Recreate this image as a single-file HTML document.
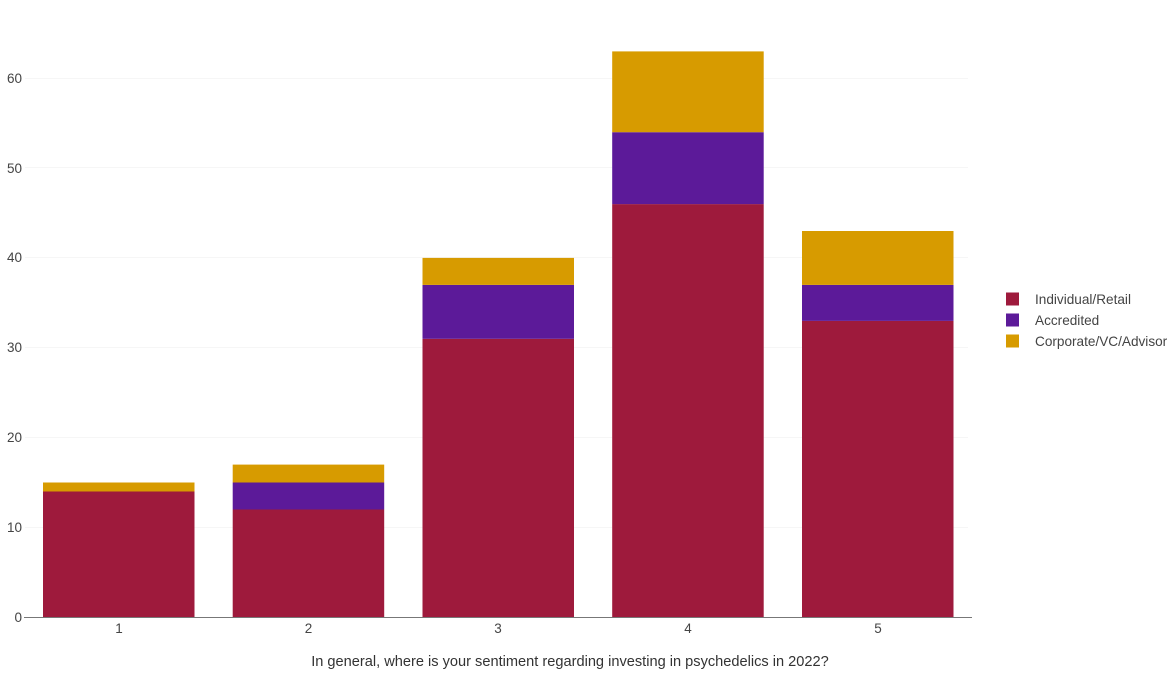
<!DOCTYPE html>
<html><head><meta charset="utf-8"><style>
html,body{margin:0;padding:0;background:#fff;}
svg{display:block;font-family:"Liberation Sans",Helvetica,Arial,sans-serif;}
</style></head><body>
<svg width="1172" height="683" viewBox="0 0 1172 683" xmlns="http://www.w3.org/2000/svg">
<g stroke="#f6f6f6" stroke-width="1">
<line x1="25" y1="527.5" x2="968" y2="527.5"/>
<line x1="25" y1="437.5" x2="968" y2="437.5"/>
<line x1="25" y1="347.5" x2="968" y2="347.5"/>
<line x1="25" y1="257.5" x2="968" y2="257.5"/>
<line x1="25" y1="167.5" x2="968" y2="167.5"/>
<line x1="25" y1="78.5" x2="968" y2="78.5"/>
</g>
<g font-size="13.5" fill="#444" text-anchor="end">
<text x="22" y="622">0</text>
<text x="22" y="532">10</text>
<text x="22" y="442">20</text>
<text x="22" y="352">30</text>
<text x="22" y="262">40</text>
<text x="22" y="173">50</text>
<text x="22" y="83">60</text>
</g>
<!-- bar1 -->
<rect x="43" y="491.5" width="151.5" height="125.8" fill="#9E1A3C"/>
<rect x="43" y="482.5" width="151.5" height="9" fill="#D79B00"/>
<!-- bar2 -->
<rect x="232.7" y="509.5" width="151.5" height="107.8" fill="#9E1A3C"/>
<rect x="232.7" y="482.5" width="151.5" height="27" fill="#5C1A99"/>
<rect x="232.7" y="464.6" width="151.5" height="17.9" fill="#D79B00"/>
<!-- bar3 -->
<rect x="422.5" y="338.8" width="151.5" height="278.5" fill="#9E1A3C"/>
<rect x="422.5" y="284.9" width="151.5" height="53.9" fill="#5C1A99"/>
<rect x="422.5" y="257.9" width="151.5" height="27" fill="#D79B00"/>
<!-- bar4 -->
<rect x="612.2" y="204.1" width="151.5" height="413.2" fill="#9E1A3C"/>
<rect x="612.2" y="132.2" width="151.5" height="71.9" fill="#5C1A99"/>
<rect x="612.2" y="51.4" width="151.5" height="80.8" fill="#D79B00"/>
<!-- bar5 -->
<rect x="802" y="320.9" width="151.5" height="296.4" fill="#9E1A3C"/>
<rect x="802" y="284.9" width="151.5" height="36" fill="#5C1A99"/>
<rect x="802" y="231" width="151.5" height="53.9" fill="#D79B00"/>
<line x1="24" y1="617.5" x2="972" y2="617.5" stroke="#777" stroke-width="1"/>
<g font-size="13.5" fill="#444" text-anchor="middle">
<text x="119" y="633">1</text>
<text x="308.5" y="633">2</text>
<text x="498" y="633">3</text>
<text x="688" y="633">4</text>
<text x="878" y="633">5</text>
</g>
<text x="570" y="666" font-size="14.6" fill="#333" text-anchor="middle">In general, where is your sentiment regarding investing in psychedelics in 2022?</text>
<rect x="1006" y="292.5" width="13" height="13" fill="#9E1A3C"/>
<rect x="1006" y="313.5" width="13" height="13" fill="#5C1A99"/>
<rect x="1006" y="334.5" width="13" height="13" fill="#D79B00"/>
<g font-size="13.6" fill="#444">
<text x="1035" y="304">Individual/Retail</text>
<text x="1035" y="325">Accredited</text>
<text x="1035" y="346">Corporate/VC/Advisor</text>
</g>
</svg>
</body></html>
